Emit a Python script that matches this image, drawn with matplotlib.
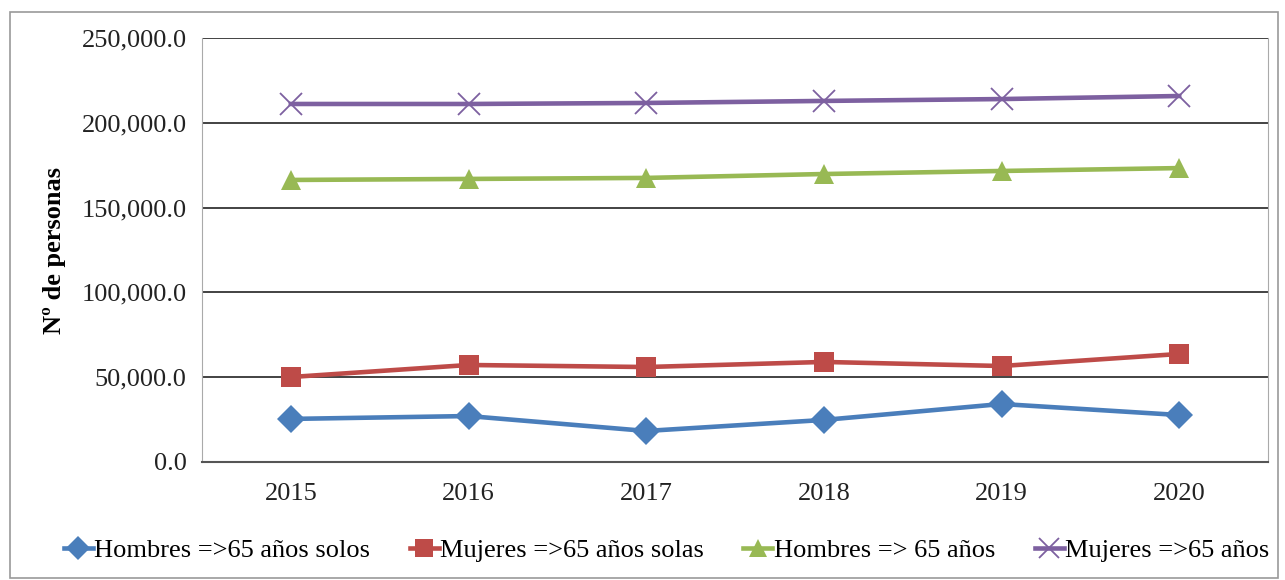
import matplotlib
matplotlib.use("Agg")
import matplotlib.pyplot as plt
from matplotlib.patches import Rectangle
from matplotlib.ticker import FuncFormatter, MultipleLocator

plt.rcParams['font.family'] = ['Liberation Serif', 'DejaVu Serif']

years = ["2015", "2016", "2017", "2018", "2019", "2020"]
hombres_solos = [25400, 27100, 18300, 24800, 34200, 27700]
mujeres_solas = [50100, 57200, 56000, 59000, 56600, 63700]
hombres_65 = [166300, 166900, 167500, 169800, 171600, 173300]
mujeres_65 = [211100, 211100, 211700, 212900, 214000, 215800]

labels = ["Hombres =>65 años solos", "Mujeres =>65 años solas",
          "Hombres => 65 años", "Mujeres =>65 años"]
colors = ["#4a7ebb", "#be4b48", "#98b954", "#7d60a0"]
markers = ["D", "s", "^", "x"]
series = [hombres_solos, mujeres_solas, hombres_65, mujeres_65]

fig = plt.figure(figsize=(12.85, 5.8), dpi=100)
ax = fig.add_axes([202/1285, 1 - 462/580, (1268-202)/1285, (462-38)/580])

x = list(range(len(years)))
msizes = [14, 14, 14, 16]
for s, lab, c, m, ms in zip(series, labels, colors, markers, msizes):
    kw = dict(markeredgewidth=1.3) if m == "x" else dict(markeredgewidth=0)
    ax.plot(x, s, color=c, lw=3.3, marker=m, markersize=ms, label=lab,
            markerfacecolor=c, markeredgecolor=c, **kw)

ax.set_xlim(-0.5, len(years) - 0.5)
ax.set_ylim(0, 250000)
ax.set_xticks(x)
ax.set_xticklabels(years)
ax.yaxis.set_major_locator(MultipleLocator(50000))
ax.yaxis.set_major_formatter(FuncFormatter(lambda v, p: f"{v:,.1f}"))
ax.grid(axis='y', color='#222222', lw=1.2)
ax.set_axisbelow(True)
ax.tick_params(axis='both', length=0, labelsize=19, colors='#222222', pad=11)
ax.tick_params(axis='x', pad=15)
for side in ['left', 'right']:
    ax.spines[side].set_color('#aaaaaa')
ax.spines['top'].set_visible(False)
ax.spines['bottom'].set_color('#555555')
ax.spines['bottom'].set_linewidth(1.5)

fig.text(54/1285, 1 - 250/580, "Nº de personas", rotation=90, fontsize=19,
         fontweight='bold', ha='center', va='center')

leg = fig.legend(loc='center', bbox_to_anchor=(0.5 + 24/1285, 1 - 550/580), ncol=4,
                 frameon=False, fontsize=19, handlelength=1.1,
                 handletextpad=0.05, columnspacing=1.5, markerscale=0.9)

fig.patches.append(Rectangle((10/1285, 2/580), 1268/1285, 566/580,
                             transform=fig.transFigure, fill=False,
                             edgecolor='#999999', lw=1.2))

fig.savefig("out.png", dpi=100)
